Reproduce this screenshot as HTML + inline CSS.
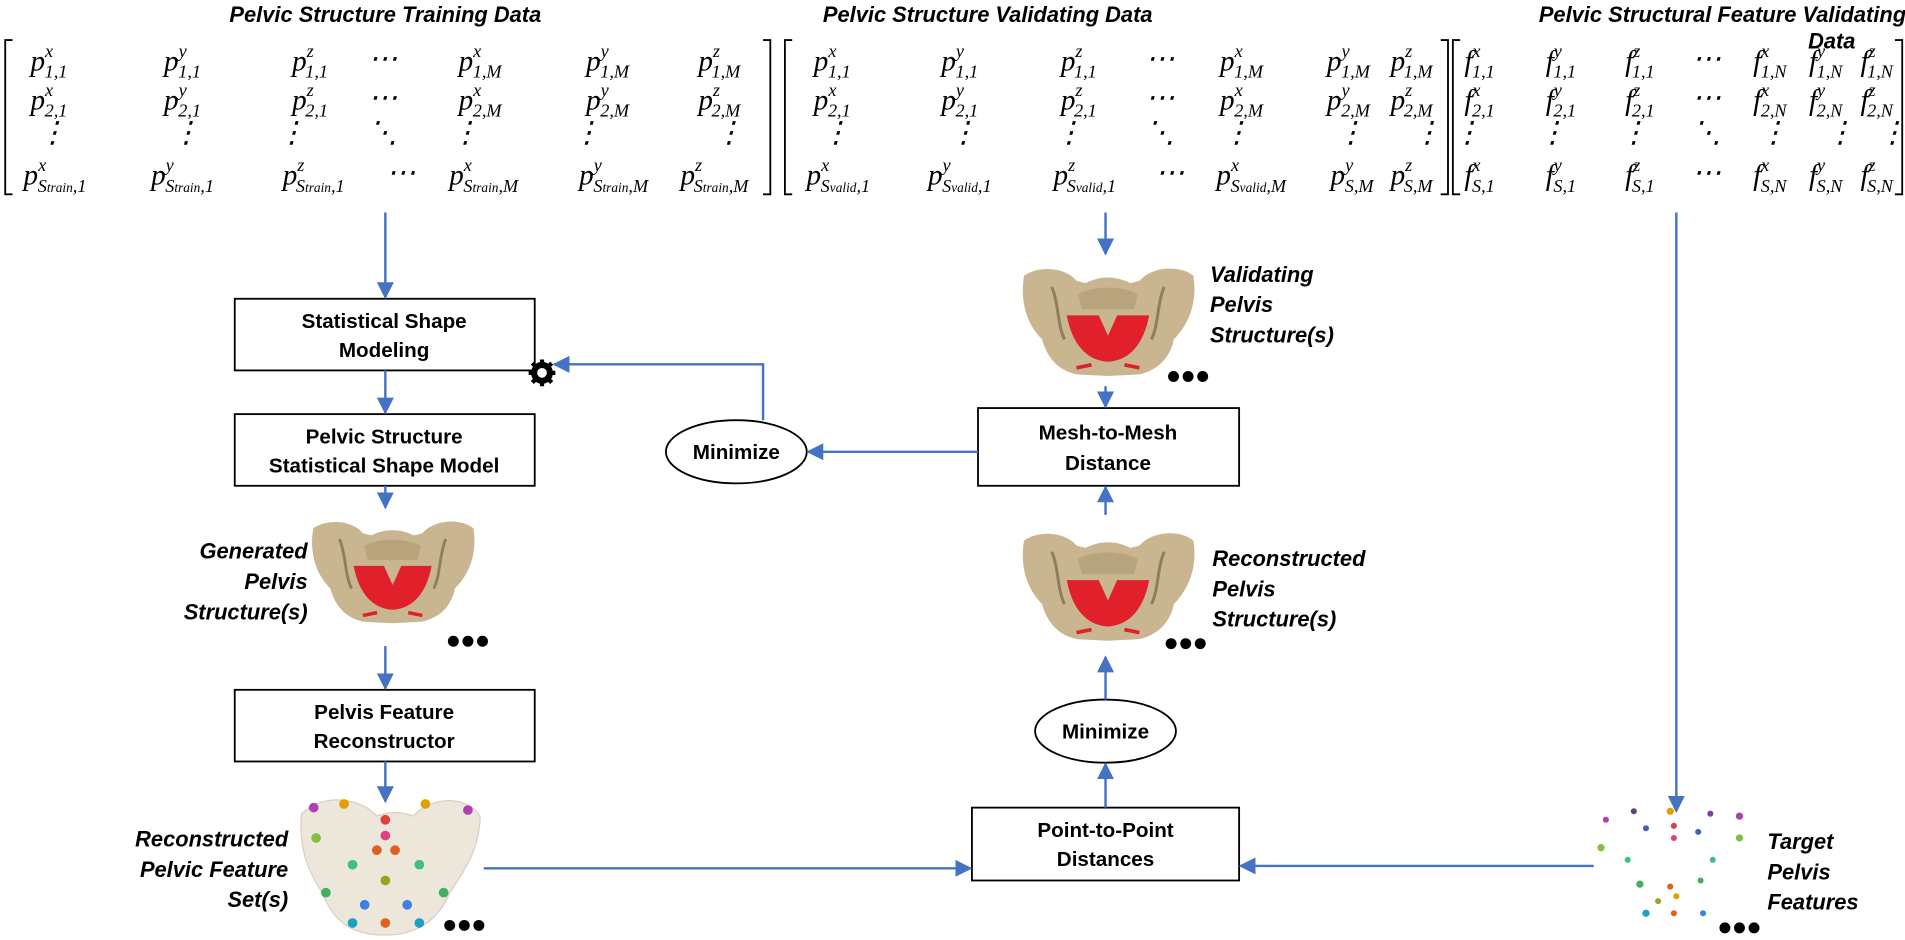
<!DOCTYPE html>
<html><head><meta charset="utf-8"><style>
html,body{margin:0;padding:0;background:#fff}
svg{display:block}
.t{font-family:"Liberation Sans",sans-serif;font-weight:bold;font-style:italic;font-size:18px}
.b{font-family:"Liberation Sans",sans-serif;font-weight:bold;font-size:17px}
.m{font-family:"Liberation Serif",serif;font-style:italic;font-size:24px}
.s{font-size:15px}
</style></head><body>
<svg width="1905" height="940" viewBox="0 0 1568 774" xmlns="http://www.w3.org/2000/svg">
<defs>
<marker id="ar" viewBox="0 0 10 10" refX="9" refY="5" markerWidth="7" markerHeight="7" orient="auto"><path d="M0,0L10,5L0,10z" fill="#4472c4"/></marker>
<symbol id="pel" viewBox="0 0 240 150">
<path d="M8,15 C30,0 65,5 78,22 L90,25 C110,15 130,15 150,25 L162,22 C178,3 215,0 234,15 C240,50 228,80 208,100 C204,122 188,142 160,147 L120,149 L80,147 C52,142 38,122 32,100 C12,80 2,50 8,15z" fill="#c9b690"/>
<path d="M45,30 C55,55 52,80 62,100 M195,30 C185,55 188,80 178,100" stroke="#8f7e5c" stroke-width="4" fill="none"/>
<path d="M80,40 C100,28 140,28 160,40 L155,60 L85,60z" fill="#b8a47c"/>
<path d="M65,68 L175,68 C168,105 150,128 120,130 C90,128 72,105 65,68z" fill="#e0202a"/>
<path d="M105,62 L120,95 L135,62z" fill="#c9b690"/>
<path d="M78,138 L98,134 M142,134 L162,138" stroke="#e0202a" stroke-width="5"/>
</symbol>
</defs>

<text class="t" x="317" y="18" text-anchor="middle">Pelvic Structure Training Data</text>
<text class="t" x="813" y="18" text-anchor="middle">Pelvic Structure Validating Data</text>
<text class="t" x="1418" y="18" text-anchor="middle">Pelvic Structural Feature Validating</text>
<text class="t" x="1508" y="40" text-anchor="middle">Data</text>

<g fill="none" stroke="#000" stroke-width="1.5">
<path d="M10,33 H4 V160 H10"/><path d="M628,33 H634 V160 H628"/>
<path d="M652,33 H646 V160 H652"/><path d="M1186,33 H1192 V160 H1186"/>
<path d="M1202,33 H1196 V160 H1202"/><path d="M1560,33 H1566 V160 H1560"/>
</g>

<g class="m" text-anchor="middle">
<text x="40" y="58">p<tspan class="s" dy="-11">x</tspan><tspan class="s" dx="-7" dy="17">1,1</tspan></text>
<text x="150" y="58">p<tspan class="s" dy="-11">y</tspan><tspan class="s" dx="-7" dy="17">1,1</tspan></text>
<text x="255" y="58">p<tspan class="s" dy="-11">z</tspan><tspan class="s" dx="-7" dy="17">1,1</tspan></text>
<text x="315" y="56">⋯</text>
<text x="395" y="58">p<tspan class="s" dy="-11">x</tspan><tspan class="s" dx="-7" dy="17">1,M</tspan></text>
<text x="500" y="58">p<tspan class="s" dy="-11">y</tspan><tspan class="s" dx="-7" dy="17">1,M</tspan></text>
<text x="592" y="58">p<tspan class="s" dy="-11">z</tspan><tspan class="s" dx="-7" dy="17">1,M</tspan></text>
<text x="40" y="90">p<tspan class="s" dy="-11">x</tspan><tspan class="s" dx="-7" dy="17">2,1</tspan></text>
<text x="150" y="90">p<tspan class="s" dy="-11">y</tspan><tspan class="s" dx="-7" dy="17">2,1</tspan></text>
<text x="255" y="90">p<tspan class="s" dy="-11">z</tspan><tspan class="s" dx="-7" dy="17">2,1</tspan></text>
<text x="315" y="88">⋯</text>
<text x="395" y="90">p<tspan class="s" dy="-11">x</tspan><tspan class="s" dx="-7" dy="17">2,M</tspan></text>
<text x="500" y="90">p<tspan class="s" dy="-11">y</tspan><tspan class="s" dx="-7" dy="17">2,M</tspan></text>
<text x="592" y="90">p<tspan class="s" dy="-11">z</tspan><tspan class="s" dx="-7" dy="17">2,M</tspan></text>
<text x="43" y="117">⋮</text><text x="153" y="117">⋮</text><text x="240" y="117">⋮</text><text x="315" y="117">⋱</text><text x="383" y="117">⋮</text><text x="483" y="117">⋮</text><text x="600" y="117">⋮</text>
<text x="45" y="152">p<tspan class="s" dy="-11">x</tspan><tspan class="s" dx="-7" dy="17">S<tspan font-size="11">train</tspan>,1</tspan></text>
<text x="150" y="152">p<tspan class="s" dy="-11">y</tspan><tspan class="s" dx="-7" dy="17">S<tspan font-size="11">train</tspan>,1</tspan></text>
<text x="258" y="152">p<tspan class="s" dy="-11">z</tspan><tspan class="s" dx="-7" dy="17">S<tspan font-size="11">train</tspan>,1</tspan></text>
<text x="330" y="150">⋯</text>
<text x="398" y="152">p<tspan class="s" dy="-11">x</tspan><tspan class="s" dx="-7" dy="17">S<tspan font-size="11">train</tspan>,M</tspan></text>
<text x="505" y="152">p<tspan class="s" dy="-11">y</tspan><tspan class="s" dx="-7" dy="17">S<tspan font-size="11">train</tspan>,M</tspan></text>
<text x="588" y="152">p<tspan class="s" dy="-11">z</tspan><tspan class="s" dx="-7" dy="17">S<tspan font-size="11">train</tspan>,M</tspan></text>
<text x="685" y="58">p<tspan class="s" dy="-11">x</tspan><tspan class="s" dx="-7" dy="17">1,1</tspan></text>
<text x="790" y="58">p<tspan class="s" dy="-11">y</tspan><tspan class="s" dx="-7" dy="17">1,1</tspan></text>
<text x="888" y="58">p<tspan class="s" dy="-11">z</tspan><tspan class="s" dx="-7" dy="17">1,1</tspan></text>
<text x="955" y="56">⋯</text>
<text x="1022" y="58">p<tspan class="s" dy="-11">x</tspan><tspan class="s" dx="-7" dy="17">1,M</tspan></text>
<text x="1110" y="58">p<tspan class="s" dy="-11">y</tspan><tspan class="s" dx="-7" dy="17">1,M</tspan></text>
<text x="1162" y="58">p<tspan class="s" dy="-11">z</tspan><tspan class="s" dx="-7" dy="17">1,M</tspan></text>
<text x="685" y="90">p<tspan class="s" dy="-11">x</tspan><tspan class="s" dx="-7" dy="17">2,1</tspan></text>
<text x="790" y="90">p<tspan class="s" dy="-11">y</tspan><tspan class="s" dx="-7" dy="17">2,1</tspan></text>
<text x="888" y="90">p<tspan class="s" dy="-11">z</tspan><tspan class="s" dx="-7" dy="17">2,1</tspan></text>
<text x="955" y="88">⋯</text>
<text x="1022" y="90">p<tspan class="s" dy="-11">x</tspan><tspan class="s" dx="-7" dy="17">2,M</tspan></text>
<text x="1110" y="90">p<tspan class="s" dy="-11">y</tspan><tspan class="s" dx="-7" dy="17">2,M</tspan></text>
<text x="1162" y="90">p<tspan class="s" dy="-11">z</tspan><tspan class="s" dx="-7" dy="17">2,M</tspan></text>
<text x="688" y="117">⋮</text><text x="793" y="117">⋮</text><text x="880" y="117">⋮</text><text x="955" y="117">⋱</text><text x="1018" y="117">⋮</text><text x="1112" y="117">⋮</text><text x="1175" y="117">⋮</text>
<text x="690" y="152">p<tspan class="s" dy="-11">x</tspan><tspan class="s" dx="-7" dy="17">S<tspan font-size="11">valid</tspan>,1</tspan></text>
<text x="790" y="152">p<tspan class="s" dy="-11">y</tspan><tspan class="s" dx="-7" dy="17">S<tspan font-size="11">valid</tspan>,1</tspan></text>
<text x="893" y="152">p<tspan class="s" dy="-11">z</tspan><tspan class="s" dx="-7" dy="17">S<tspan font-size="11">valid</tspan>,1</tspan></text>
<text x="963" y="150">⋯</text>
<text x="1030" y="152">p<tspan class="s" dy="-11">x</tspan><tspan class="s" dx="-7" dy="17">S<tspan font-size="11">valid</tspan>,M</tspan></text>
<text x="1113" y="152">p<tspan class="s" dy="-11">y</tspan><tspan class="s" dx="-7" dy="17">S,M</tspan></text>
<text x="1162" y="152">p<tspan class="s" dy="-11">z</tspan><tspan class="s" dx="-7" dy="17">S,M</tspan></text>
<text x="1218" y="58">f<tspan class="s" dy="-11">x</tspan><tspan class="s" dx="-7" dy="17">1,1</tspan></text>
<text x="1285" y="58">f<tspan class="s" dy="-11">y</tspan><tspan class="s" dx="-7" dy="17">1,1</tspan></text>
<text x="1350" y="58">f<tspan class="s" dy="-11">z</tspan><tspan class="s" dx="-7" dy="17">1,1</tspan></text>
<text x="1405" y="56">⋯</text>
<text x="1457" y="58">f<tspan class="s" dy="-11">x</tspan><tspan class="s" dx="-7" dy="17">1,N</tspan></text>
<text x="1503" y="58">f<tspan class="s" dy="-11">y</tspan><tspan class="s" dx="-7" dy="17">1,N</tspan></text>
<text x="1545" y="58">f<tspan class="s" dy="-11">z</tspan><tspan class="s" dx="-7" dy="17">1,N</tspan></text>
<text x="1218" y="90">f<tspan class="s" dy="-11">x</tspan><tspan class="s" dx="-7" dy="17">2,1</tspan></text>
<text x="1285" y="90">f<tspan class="s" dy="-11">y</tspan><tspan class="s" dx="-7" dy="17">2,1</tspan></text>
<text x="1350" y="90">f<tspan class="s" dy="-11">z</tspan><tspan class="s" dx="-7" dy="17">2,1</tspan></text>
<text x="1405" y="88">⋯</text>
<text x="1457" y="90">f<tspan class="s" dy="-11">x</tspan><tspan class="s" dx="-7" dy="17">2,N</tspan></text>
<text x="1503" y="90">f<tspan class="s" dy="-11">y</tspan><tspan class="s" dx="-7" dy="17">2,N</tspan></text>
<text x="1545" y="90">f<tspan class="s" dy="-11">z</tspan><tspan class="s" dx="-7" dy="17">2,N</tspan></text>
<text x="1208" y="117">⋮</text><text x="1278" y="117">⋮</text><text x="1345" y="117">⋮</text><text x="1405" y="117">⋱</text><text x="1460" y="117">⋮</text><text x="1515" y="117">⋮</text><text x="1558" y="117">⋮</text>
<text x="1218" y="152">f<tspan class="s" dy="-11">x</tspan><tspan class="s" dx="-7" dy="17">S,1</tspan></text>
<text x="1285" y="152">f<tspan class="s" dy="-11">y</tspan><tspan class="s" dx="-7" dy="17">S,1</tspan></text>
<text x="1350" y="152">f<tspan class="s" dy="-11">z</tspan><tspan class="s" dx="-7" dy="17">S,1</tspan></text>
<text x="1405" y="150">⋯</text>
<text x="1457" y="152">f<tspan class="s" dy="-11">x</tspan><tspan class="s" dx="-7" dy="17">S,N</tspan></text>
<text x="1503" y="152">f<tspan class="s" dy="-11">y</tspan><tspan class="s" dx="-7" dy="17">S,N</tspan></text>
<text x="1545" y="152">f<tspan class="s" dy="-11">z</tspan><tspan class="s" dx="-7" dy="17">S,N</tspan></text>
</g>

<g fill="#fff" stroke="#000" stroke-width="1.5">
<rect x="193" y="246" width="247" height="59"/>
<rect x="193" y="341" width="247" height="59"/>
<rect x="193" y="568" width="247" height="59"/>
<rect x="805" y="336" width="215" height="64"/>
<rect x="800" y="665" width="220" height="60"/>
<ellipse cx="606" cy="372" rx="58" ry="26"/>
<ellipse cx="910" cy="602" rx="58" ry="26"/>
</g>
<g class="b" text-anchor="middle">
<text x="316" y="270">Statistical Shape</text><text x="316" y="294">Modeling</text>
<text x="316" y="365">Pelvic Structure</text><text x="316" y="389">Statistical Shape Model</text>
<text x="316" y="592">Pelvis Feature</text><text x="316" y="616">Reconstructor</text>
<text x="912" y="362">Mesh-to-Mesh</text><text x="912" y="387">Distance</text>
<text x="910" y="689">Point-to-Point</text><text x="910" y="713">Distances</text>
<text x="606" y="378">Minimize</text>
<text x="910" y="608">Minimize</text>
</g>

<g transform="translate(446,307)">
<circle r="7" fill="none" stroke="#000" stroke-width="4"/>
<g stroke="#000" stroke-width="3.5"><path d="M0,-11V11M-11,0H11M-8,-8L8,8M-8,8L8,-8"/></g>
<circle r="4" fill="#fff"/>
</g>

<use href="#pel" x="253" y="410" width="140" height="120"/>
<use href="#pel" x="838" y="208" width="148" height="112"/>
<use href="#pel" x="838" y="424" width="148" height="116"/>
<g>
<path d="M248,670 C270,650 300,660 310,672 C320,668 330,668 340,672 C355,655 385,655 395,672 C395,700 380,720 370,735 C360,760 340,770 317,770 C290,770 275,760 265,735 C255,720 245,700 248,670z" fill="#ede6da" stroke="#d8cfc0"/>
<circle cx="258" cy="665" r="4" fill="#b040b0"/><circle cx="283" cy="662" r="4" fill="#e0a000"/><circle cx="350" cy="662" r="4" fill="#e0a000"/><circle cx="385" cy="667" r="4" fill="#b040b0"/>
<circle cx="260" cy="690" r="4" fill="#80c040"/><circle cx="317" cy="675" r="4" fill="#e04040"/><circle cx="317" cy="688" r="4" fill="#e04080"/><circle cx="310" cy="700" r="4" fill="#e06020"/><circle cx="325" cy="700" r="4" fill="#e06020"/>
<circle cx="290" cy="712" r="4" fill="#40c080"/><circle cx="345" cy="712" r="4" fill="#40c080"/><circle cx="268" cy="735" r="4" fill="#40b060"/><circle cx="365" cy="735" r="4" fill="#40b060"/>
<circle cx="317" cy="725" r="4" fill="#a0a020"/><circle cx="300" cy="745" r="4" fill="#4080e0"/><circle cx="335" cy="745" r="4" fill="#4080e0"/><circle cx="317" cy="760" r="4" fill="#e06020"/><circle cx="290" cy="760" r="4" fill="#20a0c0"/><circle cx="345" cy="760" r="4" fill="#20a0c0"/>
</g>
<g>
<circle cx="1322" cy="675" r="2.5" fill="#b040b0"/><circle cx="1345" cy="668" r="2.5" fill="#604080"/><circle cx="1375" cy="668" r="3" fill="#e0a000"/><circle cx="1408" cy="670" r="2.5" fill="#8040a0"/><circle cx="1432" cy="672" r="3" fill="#b040b0"/>
<circle cx="1318" cy="698" r="3" fill="#80c040"/><circle cx="1355" cy="682" r="2.5" fill="#4060c0"/><circle cx="1378" cy="680" r="2.5" fill="#e04040"/><circle cx="1378" cy="690" r="2.5" fill="#e04080"/><circle cx="1398" cy="685" r="2.5" fill="#4060c0"/><circle cx="1432" cy="690" r="3" fill="#80c040"/>
<circle cx="1340" cy="708" r="2.5" fill="#40c080"/><circle cx="1410" cy="708" r="2.5" fill="#40c080"/><circle cx="1350" cy="728" r="3" fill="#40b060"/><circle cx="1375" cy="730" r="2.5" fill="#e06020"/><circle cx="1400" cy="725" r="2.5" fill="#40b060"/>
<circle cx="1365" cy="742" r="2.5" fill="#a0a020"/><circle cx="1380" cy="738" r="2.5" fill="#e0a000"/><circle cx="1355" cy="752" r="3" fill="#20a0c0"/><circle cx="1378" cy="752" r="2.5" fill="#e06020"/><circle cx="1402" cy="752" r="2.5" fill="#4080e0"/>
</g>

<g fill="#000">
<circle cx="373" cy="528" r="4.5"/><circle cx="385" cy="528" r="4.5"/><circle cx="397" cy="528" r="4.5"/>
<circle cx="966" cy="310" r="4.5"/><circle cx="978" cy="310" r="4.5"/><circle cx="990" cy="310" r="4.5"/>
<circle cx="964" cy="530" r="4.5"/><circle cx="976" cy="530" r="4.5"/><circle cx="988" cy="530" r="4.5"/>
<circle cx="370" cy="762" r="4.5"/><circle cx="382" cy="762" r="4.5"/><circle cx="394" cy="762" r="4.5"/>
<circle cx="1420" cy="764" r="4.5"/><circle cx="1432" cy="764" r="4.5"/><circle cx="1444" cy="764" r="4.5"/>
</g>

<g class="t">
<text x="253" y="460" text-anchor="end">Generated</text><text x="253" y="485" text-anchor="end">Pelvis</text><text x="253" y="510" text-anchor="end">Structure(s)</text>
<text x="237" y="697" text-anchor="end">Reconstructed</text><text x="237" y="722" text-anchor="end">Pelvic Feature</text><text x="237" y="747" text-anchor="end">Set(s)</text>
<text x="996" y="232">Validating</text><text x="996" y="257">Pelvis</text><text x="996" y="282">Structure(s)</text>
<text x="998" y="466">Reconstructed</text><text x="998" y="491">Pelvis</text><text x="998" y="516">Structure(s)</text>
<text x="1455" y="699">Target</text><text x="1455" y="724">Pelvis</text><text x="1455" y="749">Features</text>
</g>

<g stroke="#4472c4" stroke-width="2" fill="none" marker-end="url(#ar)">
<path d="M317,175V245"/>
<path d="M317,305V340"/>
<path d="M317,400V418"/>
<path d="M317,532V567"/>
<path d="M317,627V660"/>
<path d="M398,715H799"/>
<path d="M1312,713H1021"/>
<path d="M1380,175V668"/>
<path d="M910,175V209"/>
<path d="M910,318V335"/>
<path d="M805,372H665"/>
<path d="M628,346V300H456"/>
<path d="M910,424V401"/>
<path d="M910,576V541"/>
<path d="M910,665V629"/>
</g>
</svg>
</body></html>
